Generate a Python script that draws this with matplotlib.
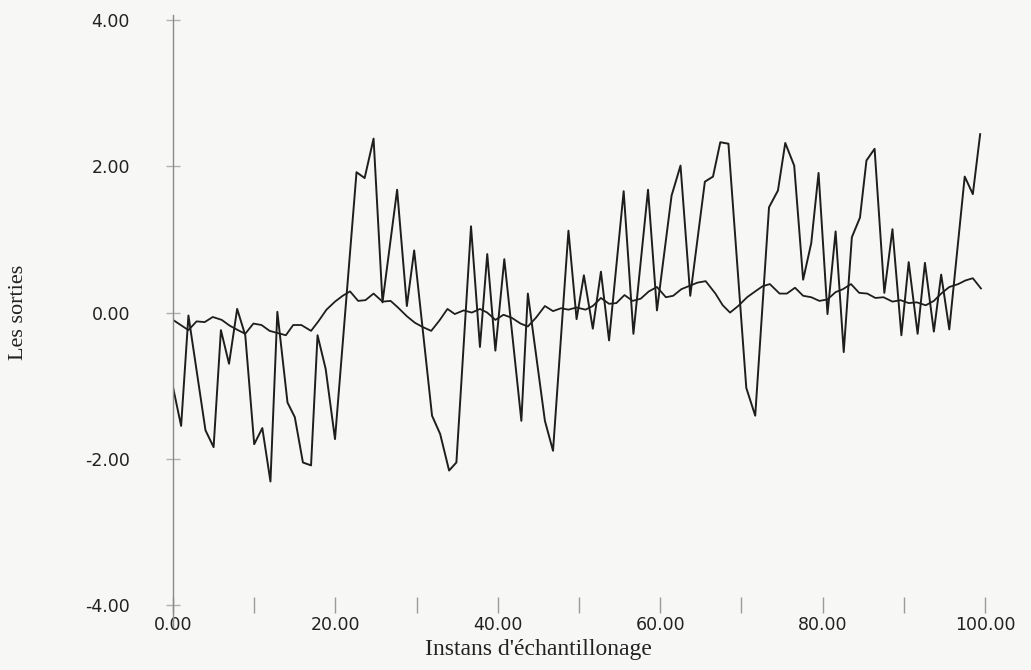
import matplotlib.pyplot as plt
import numpy as np

# sortie mesuree (courbe tres oscillante)
x_mesure = [0.0, 1.0, 1.9, 4.0, 5.0, 5.9, 6.9, 7.9, 8.9, 10.0, 11.0, 12.0, 12.85, 14.1, 15.0,
            16.0, 17.0, 17.8, 18.8, 19.95, 22.6, 23.6, 24.7, 25.8, 27.6, 28.8, 29.7, 31.9,
            32.9, 34.0, 34.9, 36.7, 37.8, 38.7, 39.7, 40.8, 42.9, 43.7, 45.8, 46.8, 48.7,
            49.7, 50.6, 51.7, 52.7, 53.7, 55.5, 56.7, 58.5, 59.6, 61.4, 62.5, 63.7, 65.5,
            66.5, 67.4, 68.4, 70.6, 71.7, 73.4, 74.5, 75.4, 76.5, 77.6, 78.6, 79.5, 80.6,
            81.6, 82.6, 83.6, 84.6, 85.4, 86.4, 87.6, 88.6, 89.7, 90.6, 91.7, 92.6, 93.7,
            94.6, 95.6, 97.5, 98.5, 99.4]
y_mesure = [-1.02, -1.55, -0.04, -1.61, -1.84, -0.24, -0.70, 0.05, -0.31, -1.80, -1.58, -2.31,
            0.01, -1.23, -1.43, -2.05, -2.09, -0.31, -0.77, -1.73, 1.92, 1.84, 2.38, 0.14,
            1.68, 0.09, 0.85, -1.41, -1.66, -2.16, -2.05, 1.18, -0.47, 0.80, -0.52, 0.73,
            -1.48, 0.26, -1.48, -1.89, 1.12, -0.09, 0.51, -0.22, 0.56, -0.38, 1.66, -0.29,
            1.68, 0.03, 1.60, 2.01, 0.23, 1.79, 1.86, 2.33, 2.31, -1.03, -1.41, 1.44, 1.67,
            2.32, 2.01, 0.45, 0.95, 1.91, -0.02, 1.11, -0.54, 1.03, 1.30, 2.08, 2.24, 0.27,
            1.14, -0.31, 0.69, -0.29, 0.68, -0.26, 0.52, -0.23, 1.86, 1.62, 2.44]

# sortie du modele (courbe lisse)
x_modele = [0.0, 1.9, 2.9, 3.9, 4.9, 6.0, 7.0, 8.0, 8.9, 9.9, 10.9, 11.9, 12.9, 13.9, 14.8,
            15.8, 17.0, 17.9, 18.9, 19.95, 20.9, 21.8, 22.8, 23.7, 24.7, 25.8, 26.8, 27.7,
            28.8, 29.8, 30.8, 31.8, 32.8, 33.8, 34.7, 35.8, 36.8, 37.8, 38.7, 39.7, 40.7,
            41.7, 42.8, 43.7, 44.7, 45.8, 46.8, 47.8, 48.7, 49.7, 50.8, 51.7, 52.7, 53.7,
            54.6, 55.6, 56.6, 57.6, 58.6, 59.6, 60.7, 61.6, 62.6, 63.7, 64.6, 65.6, 66.8,
            67.7, 68.6, 69.6, 70.7, 71.7, 72.6, 73.5, 74.7, 75.6, 76.6, 77.6, 78.6, 79.6,
            80.6, 81.6, 82.5, 83.5, 84.5, 85.5, 86.5, 87.5, 88.6, 89.6, 90.6, 91.6, 92.7,
            93.7, 94.6, 95.6, 96.7, 97.6, 98.5, 99.5]
y_modele = [-0.10, -0.24, -0.12, -0.13, -0.06, -0.10, -0.18, -0.24, -0.29, -0.15, -0.17, -0.25,
            -0.28, -0.31, -0.17, -0.17, -0.25, -0.12, 0.04, 0.15, 0.23, 0.29, 0.16, 0.17,
            0.26, 0.15, 0.16, 0.07, -0.05, -0.14, -0.20, -0.25, -0.11, 0.05, -0.02, 0.03,
            0.00, 0.05, 0.00, -0.10, -0.03, -0.07, -0.15, -0.19, -0.07, 0.09, 0.02, 0.06,
            0.04, 0.07, 0.04, 0.09, 0.20, 0.12, 0.13, 0.24, 0.16, 0.19, 0.29, 0.35, 0.21,
            0.23, 0.32, 0.37, 0.41, 0.43, 0.26, 0.10, 0.00, 0.09, 0.21, 0.29, 0.36, 0.39,
            0.26, 0.26, 0.34, 0.23, 0.21, 0.16, 0.18, 0.28, 0.32, 0.39, 0.27, 0.26, 0.20,
            0.21, 0.15, 0.17, 0.13, 0.14, 0.10, 0.16, 0.26, 0.35, 0.39, 0.44, 0.47, 0.33]

x_ticks = [0, 20, 40, 60, 80, 100]
y_ticks = [-4, -2, 0, 2, 4]

fig = plt.figure(figsize=(10.31, 6.70), dpi=100, facecolor="#f7f7f6")
ax = fig.add_axes([0.1678, 0.0642, 0.7876, 0.9134])
ax.set_facecolor("#f7f7f6")

ax.plot(x_mesure, y_mesure, color="#1e1e1e", lw=1.4)
ax.plot(x_modele, y_modele, color="#1e1e1e", lw=1.3)

ax.set_xlim(0, 100)
ax.set_ylim(-4.3, 4.07)

for s in ["top", "right"]:
    ax.spines[s].set_visible(False)
ax.spines["left"].set_color("#8a8a8a")
ax.spines["left"].set_linewidth(1.0)
ax.spines["bottom"].set_position(("data", -4))
ax.spines["bottom"].set_color("none")

ax.set_xticks(x_ticks)
ax.set_xticks(np.arange(10, 100, 20), minor=True)
ax.set_xticklabels(["%.2f" % v for v in x_ticks], fontfamily="DejaVu Sans", fontsize=12.5, color="#222")
ax.set_yticks(y_ticks)
ax.set_yticklabels(["%.2f" % v for v in y_ticks], fontfamily="DejaVu Sans", fontsize=12.5, color="#222")

ax.tick_params(axis="x", which="both", direction="inout", length=12, width=1, color="#9a9a9a", pad=2)
ax.tick_params(axis="y", direction="inout", length=10, width=1, color="#b0b0b0", pad=26)

fig.text(538 / 1031, 1 - 650 / 670, "Instans d'échantillonage", ha="center", va="center",
         fontfamily="Liberation Serif", fontsize=17, color="#222")
fig.text(19 / 1031, 1 - 312 / 670, "Les sorties", ha="center", va="center", rotation=90,
         fontfamily="Liberation Serif", fontsize=16, color="#222")

fig.savefig("out.png", dpi=100, facecolor=fig.get_facecolor())
